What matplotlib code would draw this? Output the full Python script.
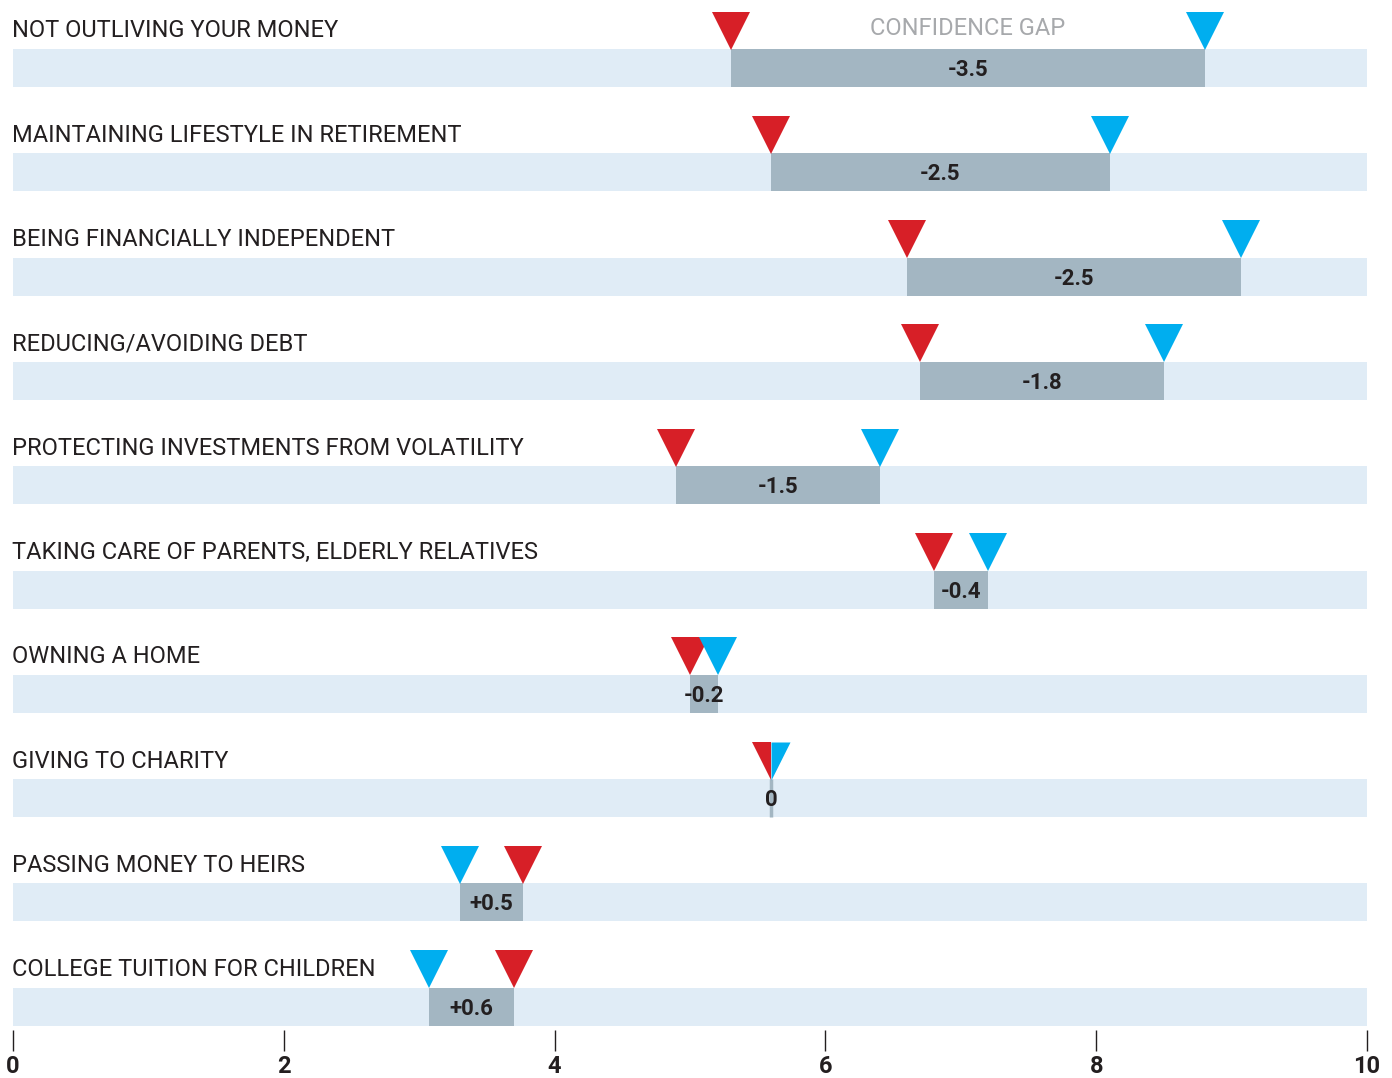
import numpy as np
import matplotlib
matplotlib.use("Agg")
import matplotlib.pyplot as plt
from matplotlib.path import Path

# data
goals = ["NOT OUTLIVING YOUR MONEY",
         "MAINTAINING LIFESTYLE IN RETIREMENT",
         "BEING FINANCIALLY INDEPENDENT",
         "REDUCING/AVOIDING DEBT",
         "PROTECTING INVESTMENTS FROM VOLATILITY",
         "TAKING CARE OF PARENTS, ELDERLY RELATIVES",
         "OWNING A HOME",
         "GIVING TO CHARITY",
         "PASSING MONEY TO HEIRS",
         "COLLEGE TUITION FOR CHILDREN"]
red_vals = [5.3, 5.6, 6.6, 6.7, 4.9, 6.8, 5.0, 5.6, 3.77, 3.7]
blue_vals = [8.8, 8.1, 9.07, 8.5, 6.4, 7.2, 5.21, 5.6, 3.3, 3.07]
x_ticks = [0, 2, 4, 6, 8, 10]

RED = "#d71f27"
BLUE = "#00aeef"
LIGHT = "#e0ecf6"
GAP = "#a3b6c2"
TXT = "#231f20"

# half triangles for the zero-gap row
left_half = Path([(-1, 1), (0, 1), (0, -1), (-1, 1)], closed=True)
right_half = Path([(0, 1), (1, 1), (0, -1), (0, 1)], closed=True)

fig = plt.figure(figsize=(13.92, 10.78), dpi=100)
ax = fig.add_axes([13 / 1392, 1 - 1030 / 1078, 1354 / 1392, 1030 / 1078])

pitch = 104.3
bar_h = 38 / pitch
tri = 38 * 72 / 100  # marker size in points
tri_off = bar_h / 2 + 18.5 / pitch

n = len(goals)
rows = np.arange(n)

ax.barh(rows, 10, left=0, height=bar_h, color=LIGHT, zorder=1)

for i in range(n):
    r, b = red_vals[i], blue_vals[i]
    gap = round(r - b, 1)
    lo = min(r, b)
    if gap == 0:
        ax.vlines(r, i - bar_h / 2, i + bar_h / 2, color=GAP, lw=2.5, zorder=2)
        lab = "0"
        ax.plot(r, i - tri_off, marker=left_half, ms=tri, color=RED, mew=0, zorder=4)
        ax.plot(b, i - tri_off, marker=right_half, ms=tri, color=BLUE, mew=0, zorder=4)
    else:
        ax.barh(i, abs(r - b), left=lo, height=bar_h, color=GAP, zorder=2)
        lab = f"{gap:+.1f}" if gap > 0 else f"{gap:.1f}"
        ax.plot(r, i - tri_off, marker="v", ms=tri, color=RED, mew=0, zorder=4)
        ax.plot(b, i - tri_off, marker="v", ms=tri, color=BLUE, mew=0, zorder=5)
    ax.text((r + b) / 2, i + 0.02, lab, ha="center", va="center",
            fontsize=16, fontweight="bold", color=TXT, family="Roboto",
            zorder=6)
    ax.text(-0.01, i - 0.355, goals[i], ha="left", va="center", fontsize=17,
            color=TXT, family="Roboto")

ax.text((red_vals[0] + blue_vals[0]) / 2, -0.38, "CONFIDENCE GAP", ha="center",
        va="center", fontsize=17, color="#a7a9ac", family="Roboto")

ax.set_xlim(0, 10)
ax.set_ylim(-0.652 + 1030 / pitch, -0.652)
ax.set_yticks([])
ax.set_xticks(x_ticks)
ax.set_xticklabels([str(t) for t in x_ticks], fontsize=17, fontweight="bold",
                   family="Roboto", color=TXT)
ax.tick_params(axis="x", length=15, width=1, color=TXT, pad=3)
for s in ax.spines.values():
    s.set_visible(False)

fig.savefig("out.png", dpi=100)
